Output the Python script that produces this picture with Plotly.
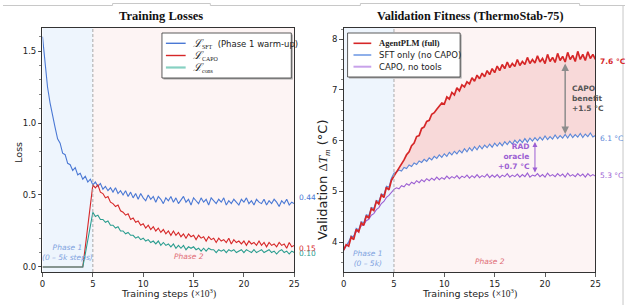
import plotly.graph_objects as go

# ---------------- data ----------------
STEPS = [0.0, 0.25, 0.5, 0.75, 1.0, 1.25, 1.5, 1.75, 2.0, 2.25,
         2.5, 2.75, 3.0, 3.25, 3.5, 3.75, 4.0, 4.25, 4.5, 4.75,
         5.0, 5.25, 5.5, 5.75, 6.0, 6.25, 6.5, 6.75, 7.0, 7.25,
         7.5, 7.75, 8.0, 8.25, 8.5, 8.75, 9.0, 9.25, 9.5, 9.75,
         10.0, 10.25, 10.5, 10.75, 11.0, 11.25, 11.5, 11.75, 12.0, 12.25,
         12.5, 12.75, 13.0, 13.25, 13.5, 13.75, 14.0, 14.25, 14.5, 14.75,
         15.0, 15.25, 15.5, 15.75, 16.0, 16.25, 16.5, 16.75, 17.0, 17.25,
         17.5, 17.75, 18.0, 18.25, 18.5, 18.75, 19.0, 19.25, 19.5, 19.75,
         20.0, 20.25, 20.5, 20.75, 21.0, 21.25, 21.5, 21.75, 22.0, 22.25,
         22.5, 22.75, 23.0, 23.25, 23.5, 23.75, 24.0, 24.25, 24.5, 24.75,
         25.0]

LOSS_SFT = [1.60, 1.43, 1.25, 1.14, 1.04, 0.97, 0.89, 0.86, 0.79, 0.78,
            0.72, 0.71, 0.67, 0.69, 0.64, 0.65, 0.61, 0.63, 0.59, 0.61,
            0.57, 0.59, 0.56, 0.58, 0.54, 0.56, 0.53, 0.55, 0.52, 0.55,
            0.51, 0.53, 0.50, 0.53, 0.49, 0.52, 0.48, 0.51, 0.47, 0.51,
            0.48, 0.46, 0.50, 0.47, 0.49, 0.45, 0.49, 0.47, 0.44, 0.48,
            0.46, 0.49, 0.45, 0.48, 0.44, 0.47, 0.49, 0.45, 0.47, 0.43,
            0.48, 0.46, 0.44, 0.48, 0.45, 0.47, 0.43, 0.48, 0.46, 0.44,
            0.47, 0.45, 0.48, 0.43, 0.46, 0.44, 0.47, 0.45, 0.43, 0.47,
            0.45, 0.48, 0.44, 0.46, 0.43, 0.47, 0.45, 0.44, 0.47, 0.43,
            0.46, 0.44, 0.47, 0.45, 0.42, 0.46, 0.44, 0.47, 0.43, 0.45,
            0.44]

LOSS_CAPO = [0.0, 0.0, 0.0, 0.0, 0.0, 0.0, 0.0, 0.0, 0.0, 0.0,
             0.0, 0.0, 0.0, 0.0, 0.0, 0.0, 0.0, 0.14, 0.28, 0.43,
             0.57, 0.55, 0.57, 0.52, 0.51, 0.48, 0.49, 0.45, 0.44, 0.42,
             0.43, 0.39, 0.38, 0.36, 0.37, 0.33, 0.34, 0.31, 0.32, 0.29,
             0.30, 0.27, 0.29, 0.26, 0.28, 0.25, 0.27, 0.24, 0.26, 0.23,
             0.25, 0.22, 0.25, 0.22, 0.24, 0.21, 0.23, 0.20, 0.23, 0.21,
             0.22, 0.19, 0.22, 0.20, 0.21, 0.18, 0.21, 0.19, 0.20, 0.17,
             0.20, 0.18, 0.19, 0.17, 0.20, 0.16, 0.19, 0.17, 0.18, 0.16,
             0.18, 0.15, 0.18, 0.16, 0.17, 0.15, 0.18, 0.15, 0.17, 0.14,
             0.17, 0.15, 0.16, 0.14, 0.17, 0.15, 0.16, 0.13, 0.17, 0.14,
             0.15]

LOSS_CONS = [0.0, 0.0, 0.0, 0.0, 0.0, 0.0, 0.0, 0.0, 0.0, 0.0,
             0.0, 0.0, 0.0, 0.0, 0.0, 0.0, 0.0, 0.09, 0.19, 0.29,
             0.38, 0.35, 0.36, 0.33, 0.33, 0.31, 0.32, 0.29, 0.29, 0.27,
             0.28, 0.25, 0.25, 0.23, 0.24, 0.22, 0.22, 0.20, 0.21, 0.19,
             0.20, 0.18, 0.19, 0.17, 0.18, 0.16, 0.18, 0.15, 0.17, 0.15,
             0.16, 0.14, 0.16, 0.13, 0.15, 0.13, 0.15, 0.12, 0.14, 0.13,
             0.14, 0.12, 0.13, 0.11, 0.13, 0.11, 0.13, 0.12, 0.12, 0.10,
             0.12, 0.11, 0.12, 0.10, 0.12, 0.11, 0.12, 0.10, 0.11, 0.12,
             0.10, 0.12, 0.11, 0.10, 0.12, 0.10, 0.11, 0.12, 0.10, 0.11,
             0.12, 0.10, 0.11, 0.09, 0.11, 0.12, 0.10, 0.11, 0.09, 0.11,
             0.10]

FIT_AGENT = [3.84, 3.95, 3.92, 4.10, 4.05, 4.25, 4.20, 4.38, 4.33, 4.52,
             4.47, 4.66, 4.62, 4.80, 4.75, 4.93, 4.88, 5.08, 5.03, 5.22,
             5.30, 5.38, 5.45, 5.55, 5.62, 5.72, 5.78, 5.90, 5.95, 6.08,
             6.10, 6.24, 6.27, 6.38, 6.40, 6.52, 6.55, 6.62, 6.68, 6.74,
             6.72, 6.86, 6.82, 6.95, 6.90, 7.04, 6.98, 7.10, 7.06, 7.16,
             7.12, 7.24, 7.17, 7.29, 7.22, 7.33, 7.26, 7.38, 7.30, 7.42,
             7.34, 7.47, 7.38, 7.50, 7.42, 7.55, 7.44, 7.52, 7.46, 7.60,
             7.48, 7.56, 7.50, 7.64, 7.52, 7.60, 7.53, 7.67, 7.55, 7.62,
             7.52, 7.70, 7.56, 7.64, 7.54, 7.72, 7.58, 7.66, 7.55, 7.74,
             7.60, 7.68, 7.56, 7.76, 7.60, 7.70, 7.58, 7.75, 7.62, 7.70,
             7.60]

FIT_SFT = [3.86, 3.93, 4.00, 4.12, 4.10, 4.27, 4.24, 4.40, 4.38, 4.54,
           4.52, 4.68, 4.66, 4.82, 4.80, 4.95, 4.93, 5.10, 5.08, 5.26,
           5.36, 5.38, 5.42, 5.40, 5.47, 5.45, 5.52, 5.49, 5.56, 5.53,
           5.60, 5.57, 5.63, 5.59, 5.66, 5.62, 5.69, 5.65, 5.72, 5.67,
           5.74, 5.69, 5.77, 5.72, 5.79, 5.74, 5.81, 5.76, 5.84, 5.78,
           5.86, 5.80, 5.88, 5.82, 5.90, 5.84, 5.91, 5.86, 5.93, 5.87,
           5.95, 5.89, 5.96, 5.90, 5.98, 5.92, 5.99, 5.93, 6.01, 5.95,
           6.02, 5.96, 6.04, 5.97, 6.05, 5.99, 6.06, 6.00, 6.07, 6.01,
           6.09, 6.02, 6.08, 6.03, 6.11, 6.04, 6.10, 6.05, 6.12, 6.05,
           6.13, 6.06, 6.12, 6.07, 6.14, 6.06, 6.13, 6.08, 6.15, 6.07,
           6.10]

FIT_NOTOOLS = [3.84, 3.92, 3.98, 4.08, 4.12, 4.20, 4.24, 4.32, 4.34, 4.42,
               4.45, 4.53, 4.56, 4.64, 4.68, 4.76, 4.80, 4.88, 4.92, 4.99,
               5.04, 5.07, 5.05, 5.11, 5.09, 5.15, 5.12, 5.18, 5.15, 5.21,
               5.17, 5.23, 5.19, 5.25, 5.21, 5.26, 5.22, 5.28, 5.23, 5.27,
               5.24, 5.30, 5.25, 5.29, 5.26, 5.31, 5.25, 5.30, 5.27, 5.32,
               5.26, 5.31, 5.27, 5.33, 5.27, 5.31, 5.28, 5.34, 5.27, 5.32,
               5.28, 5.33, 5.27, 5.32, 5.29, 5.35, 5.28, 5.32, 5.29, 5.34,
               5.28, 5.33, 5.29, 5.36, 5.28, 5.32, 5.30, 5.35, 5.29, 5.33,
               5.28, 5.36, 5.30, 5.33, 5.29, 5.35, 5.30, 5.34, 5.28, 5.36,
               5.30, 5.33, 5.29, 5.35, 5.30, 5.34, 5.28, 5.35, 5.30, 5.33,
               5.30]

X_TICKS = [0, 5, 10, 15, 20, 25]
LOSS_TICKS = [0.0, 0.5, 1.0, 1.5]
LOSS_TICK_TEXT = ["0.0", "0.5", "1.0", "1.5"]
FIT_TICKS = [4, 5, 6, 7, 8]
PHASE_SPLIT = 5
LOSS_END_LABELS = ["0.44", "0.15", "0.10"]
FIT_END_LABELS = ["7.6 °C", "6.1 °C", "5.3 °C"]

# ---------------- style ----------------
W, H = 630, 305
def px(x): return x / W
def py(y): return 1 - y / H

BLUE = '#4a78d4'
RED = '#d62728'
TEAL = '#2a9d8f'
PURPLE = '#9c5fd3'
RBLUE = '#5b87d8'
P1_BG = '#eef5fd'
P2_BG = '#fdf4f4'
SANS = 'DejaVu Sans'
SERIF = 'Liberation Serif'

fig = go.Figure()

# left panel
fig.add_trace(go.Scatter(x=STEPS, y=LOSS_SFT, mode='lines', line=dict(color=BLUE, width=1.1),
                         xaxis='x', yaxis='y', showlegend=False))
fig.add_trace(go.Scatter(x=STEPS, y=LOSS_CAPO, mode='lines', line=dict(color=RED, width=1.1),
                         xaxis='x', yaxis='y', showlegend=False))
fig.add_trace(go.Scatter(x=STEPS, y=LOSS_CONS, mode='lines', line=dict(color=TEAL, width=1.1),
                         xaxis='x', yaxis='y', showlegend=False))

# right panel: shaded gap between full and SFT-only in phase 2
i0 = STEPS.index(PHASE_SPLIT)
fig.add_trace(go.Scatter(x=STEPS[i0:], y=FIT_SFT[i0:], mode='lines', line=dict(width=0),
                         xaxis='x2', yaxis='y2', showlegend=False, hoverinfo='skip'))
fig.add_trace(go.Scatter(x=STEPS[i0:], y=FIT_AGENT[i0:], mode='lines', line=dict(width=0),
                         fill='tonexty', fillcolor='rgba(214,39,40,0.13)',
                         xaxis='x2', yaxis='y2', showlegend=False, hoverinfo='skip'))
fig.add_trace(go.Scatter(x=STEPS, y=FIT_NOTOOLS, mode='lines', line=dict(color=PURPLE, width=1.1),
                         xaxis='x2', yaxis='y2', showlegend=False))
fig.add_trace(go.Scatter(x=STEPS, y=FIT_SFT, mode='lines', line=dict(color=RBLUE, width=1.1),
                         xaxis='x2', yaxis='y2', showlegend=False))
fig.add_trace(go.Scatter(x=STEPS, y=FIT_AGENT, mode='lines', line=dict(color=RED, width=1.7),
                         xaxis='x2', yaxis='y2', showlegend=False))

axis_common = dict(showline=True, linecolor='#333', linewidth=1, mirror=True,
                   ticks='outside', ticklen=3.5, tickwidth=0.8, tickcolor='#333',
                   tickfont=dict(family=SANS, size=8.5, color='#222'),
                   showgrid=False, zeroline=False)

fig.update_layout(
    width=W, height=H, margin=dict(l=0, r=0, t=0, b=0),
    paper_bgcolor='white', plot_bgcolor='white',
    xaxis=dict(domain=[px(40), px(295)], range=[0, 25], anchor='y', tickvals=X_TICKS, **axis_common),
    yaxis=dict(domain=[py(272), py(28)], range=[-0.035, 1.66], anchor='x',
               tickvals=LOSS_TICKS, ticktext=LOSS_TICK_TEXT,
               minor=dict(ticks='outside', ticklen=2, dtick=0.1, tick0=0, tickcolor='#333', tickwidth=0.6),
               **axis_common),
    xaxis2=dict(domain=[px(345), px(600)], range=[0, 25], anchor='y2', tickvals=X_TICKS, **axis_common),
    yaxis2=dict(domain=[py(272), py(28)], range=[3.41, 8.22], anchor='x2',
                tickvals=FIT_TICKS,
                minor=dict(ticks='outside', ticklen=2, dtick=0.2, tick0=0, tickcolor='#333', tickwidth=0.6),
                **axis_common),
    showlegend=False,
    hovermode=False,
)

shapes = []
# phase backgrounds + divider
for xr, yr in (('x', 'y domain'), ('x2', 'y2 domain')):
    shapes.append(dict(type='rect', xref=xr, yref=yr, x0=0, x1=PHASE_SPLIT, y0=0, y1=1,
                       fillcolor=P1_BG, line=dict(width=0), layer='below'))
    shapes.append(dict(type='rect', xref=xr, yref=yr, x0=PHASE_SPLIT, x1=25, y0=0, y1=1,
                       fillcolor=P2_BG, line=dict(width=0), layer='below'))
    shapes.append(dict(type='line', xref=xr, yref=yr, x0=PHASE_SPLIT, x1=PHASE_SPLIT, y0=0, y1=1,
                       line=dict(color='#a0a0a0', width=0.9, dash='3px,2px')))

# top frame decoration lines
FRAME = '#c8c8c8'
for (x0, y0, x1, y1) in [(0, 5.5, 111, 5.5), (111, 5.5, 111, 3.5), (111, 3.5, 210, 3.5), (210, 3.5, 210, 5.5),
                         (210, 5.5, 362, 5.5), (362, 5.5, 362, 3.5), (362, 3.5, 584, 3.5), (584, 3.5, 584, 5.5),
                         (584, 5.5, 630, 5.5), (628, 5.5, 628, 305)]:
    shapes.append(dict(type='line', xref='paper', yref='paper', x0=px(x0), y0=py(y0), x1=px(x1), y1=py(y1),
                       line=dict(color=FRAME, width=1)))

# manual legends
def legend_box(x0, x1, y0, y1):
    shapes.append(dict(type='rect', xref='paper', yref='paper', x0=px(x0 + 1.5), x1=px(x1 + 1.5),
                       y0=py(y1 + 1.5), y1=py(y0 + 1.5), fillcolor='#a8a8a8', line=dict(width=0)))
    shapes.append(dict(type='rect', xref='paper', yref='paper', x0=px(x0), x1=px(x1),
                       y0=py(y1), y1=py(y0), fillcolor='white', line=dict(color='#333', width=0.8)))

legend_box(161, 292, 33, 78)
legend_box(349, 463, 33, 77)

LEFT_LEG = [(BLUE, 43.3, 1.4), (RED, 55.5, 1.4), ('#86d1c2', 67.5, 2.2)]
for c, yy, w in LEFT_LEG:
    shapes.append(dict(type='line', xref='paper', yref='paper', x0=px(165), x1=px(185), y0=py(yy), y1=py(yy),
                       line=dict(color=c, width=w)))
RIGHT_LEG = [(RED, 43.3, 1.6), ('#8fb0ea', 55.0, 2.0), ('#c8a2ea', 66.7, 2.0)]
for c, yy, w in RIGHT_LEG:
    shapes.append(dict(type='line', xref='paper', yref='paper', x0=px(355), x1=px(373), y0=py(yy), y1=py(yy),
                       line=dict(color=c, width=w)))

fig.update_layout(shapes=shapes)

ann = []
def A(**kw):
    base = dict(showarrow=False, font=dict(family=SANS, size=8.5, color='#222'))
    base.update(kw)
    ann.append(base)

L = f'<span style="font-family:{SERIF};font-size:11px"><i>ℒ</i></span>'
def sub(s):
    return f'<sub><span style="font-family:{SERIF}">{s}</span></sub>'

A(xref='paper', yref='paper', x=px(190), y=py(43.3), xanchor='left', yanchor='middle',
  text=f'{L}{sub("SFT")}  (Phase 1 warm-up)', font=dict(family=SANS, size=8.5, color='#222'))
A(xref='paper', yref='paper', x=px(190), y=py(55.5), xanchor='left', yanchor='middle',
  text=f'{L}{sub("CAPO")}', font=dict(family=SANS, size=8.5, color='#222'))
A(xref='paper', yref='paper', x=px(190), y=py(67.5), xanchor='left', yanchor='middle',
  text=f'{L}{sub("cons")}', font=dict(family=SANS, size=8.5, color='#222'))

A(xref='paper', yref='paper', x=px(379), y=py(43.3), xanchor='left', yanchor='middle',
  text='<b>AgentPLM (full)</b>', font=dict(family=SERIF, size=8.5, color='#222'))
A(xref='paper', yref='paper', x=px(379), y=py(55.0), xanchor='left', yanchor='middle',
  text='SFT only (no CAPO)', font=dict(family=SANS, size=8.5, color='#222'))
A(xref='paper', yref='paper', x=px(379), y=py(66.7), xanchor='left', yanchor='middle',
  text='CAPO, no tools', font=dict(family=SANS, size=8.5, color='#222'))

# titles
A(xref='paper', yref='paper', x=px(160.5), y=py(16), xanchor='center', yanchor='middle',
  text='<b>Training Losses</b>', font=dict(family=SERIF, size=12.5, color='#111'))
A(xref='paper', yref='paper', x=px(473), y=py(16), xanchor='center', yanchor='middle',
  text='<b>Validation Fitness (ThermoStab-75)</b>', font=dict(family=SERIF, size=12.2, color='#111'))

# axis titles
XT = f'Training steps (<span style="font-family:{SERIF}">×10<sup>3</sup>)</span>'
A(xref='paper', yref='paper', x=px(168), y=py(293), xanchor='center', yanchor='middle', text=XT,
  font=dict(family=SANS, size=9.5, color='#222'))
A(xref='paper', yref='paper', x=px(472.5), y=py(293), xanchor='center', yanchor='middle', text=XT,
  font=dict(family=SANS, size=9.5, color='#222'))
A(xref='paper', yref='paper', x=px(15), y=py(152), xanchor='center', yanchor='middle', text='Loss',
  textangle=-90, font=dict(family=SANS, size=9.5, color='#222'))
A(xref='paper', yref='paper', x=px(324), y=py(180), xanchor='center', yanchor='middle',
  text=f'Validation <span style="font-family:{SERIF}">Δ<i>T</i><sub><i>m</i></sub></span> (°C)',
  textangle=-90, font=dict(family=SANS, size=13, color='#222'))

# end labels
for lab, yv, c in zip(LOSS_END_LABELS, [0.48, 0.125, 0.097], [BLUE, RED, TEAL]):
    A(xref='x', yref='y', x=25, y=yv, xanchor='left', yanchor='middle', xshift=3, text=lab,
      font=dict(family=SANS, size=7.5, color=c))
for lab, yv, c in zip(FIT_END_LABELS, [7.55, 6.05, 5.31], [RED, RBLUE, PURPLE]):
    t = f'<b>{lab}</b>' if c == RED else lab
    A(xref='x2', yref='y2', x=25, y=yv, xanchor='left', yanchor='middle', xshift=3, text=t,
      font=dict(family=SANS, size=7.5, color=c))

# phase labels
A(xref='x', yref='y', x=2.45, y=0.10, xanchor='center', yanchor='middle',
  text='<i>Phase 1<br>(0 – 5k steps)</i>', font=dict(family=SANS, size=7.5, color='#7fa3e0'))
A(xref='x', yref='y', x=14.5, y=0.076, xanchor='center', yanchor='middle',
  text='<i>Phase 2</i>', font=dict(family=SANS, size=7.5, color='#e06d75'))
A(xref='x2', yref='y2', x=2.45, y=3.675, xanchor='center', yanchor='middle',
  text='<i>Phase 1<br>(0 – 5k)</i>', font=dict(family=SANS, size=7.5, color='#7fa3e0'))
A(xref='x2', yref='y2', x=14.5, y=3.61, xanchor='center', yanchor='middle',
  text='<i>Phase 2</i>', font=dict(family=SANS, size=7.5, color='#e06d75'))

# arrows
ann.append(dict(xref='x2', yref='y2', axref='x2', ayref='y2', x=22, y=6.13, ax=22, ay=7.55,
                showarrow=True, arrowhead=2, startarrowhead=2, arrowside='end+start',
                arrowsize=1, arrowwidth=1.5, arrowcolor='#8c8c8c', text=''))
ann.append(dict(xref='x2', yref='y2', axref='x2', ayref='y2', x=19, y=5.37, ax=19, ay=6.0,
                showarrow=True, arrowhead=2, startarrowhead=2, arrowside='end+start',
                arrowsize=1, arrowwidth=1, arrowcolor=PURPLE, text=''))
A(xref='x2', yref='y2', x=22.45, y=6.83, xanchor='left', yanchor='middle', align='left',
  text='<b>CAPO<br>benefit<br>+1.5 °C</b>', font=dict(family=SANS, size=7.5, color='#555'))
A(xref='x2', yref='y2', x=18.7, y=5.69, xanchor='right', yanchor='middle', align='right',
  text='<b>RAD<br>oracle<br>+0.7 °C</b>', font=dict(family=SANS, size=7.5, color=PURPLE))

fig.update_layout(annotations=ann)
fig.write_html("out.html",
               config={'displayModeBar': False, 'staticPlot': True},
               post_script="document.body.style.margin='0px';document.body.style.padding='0px';")
